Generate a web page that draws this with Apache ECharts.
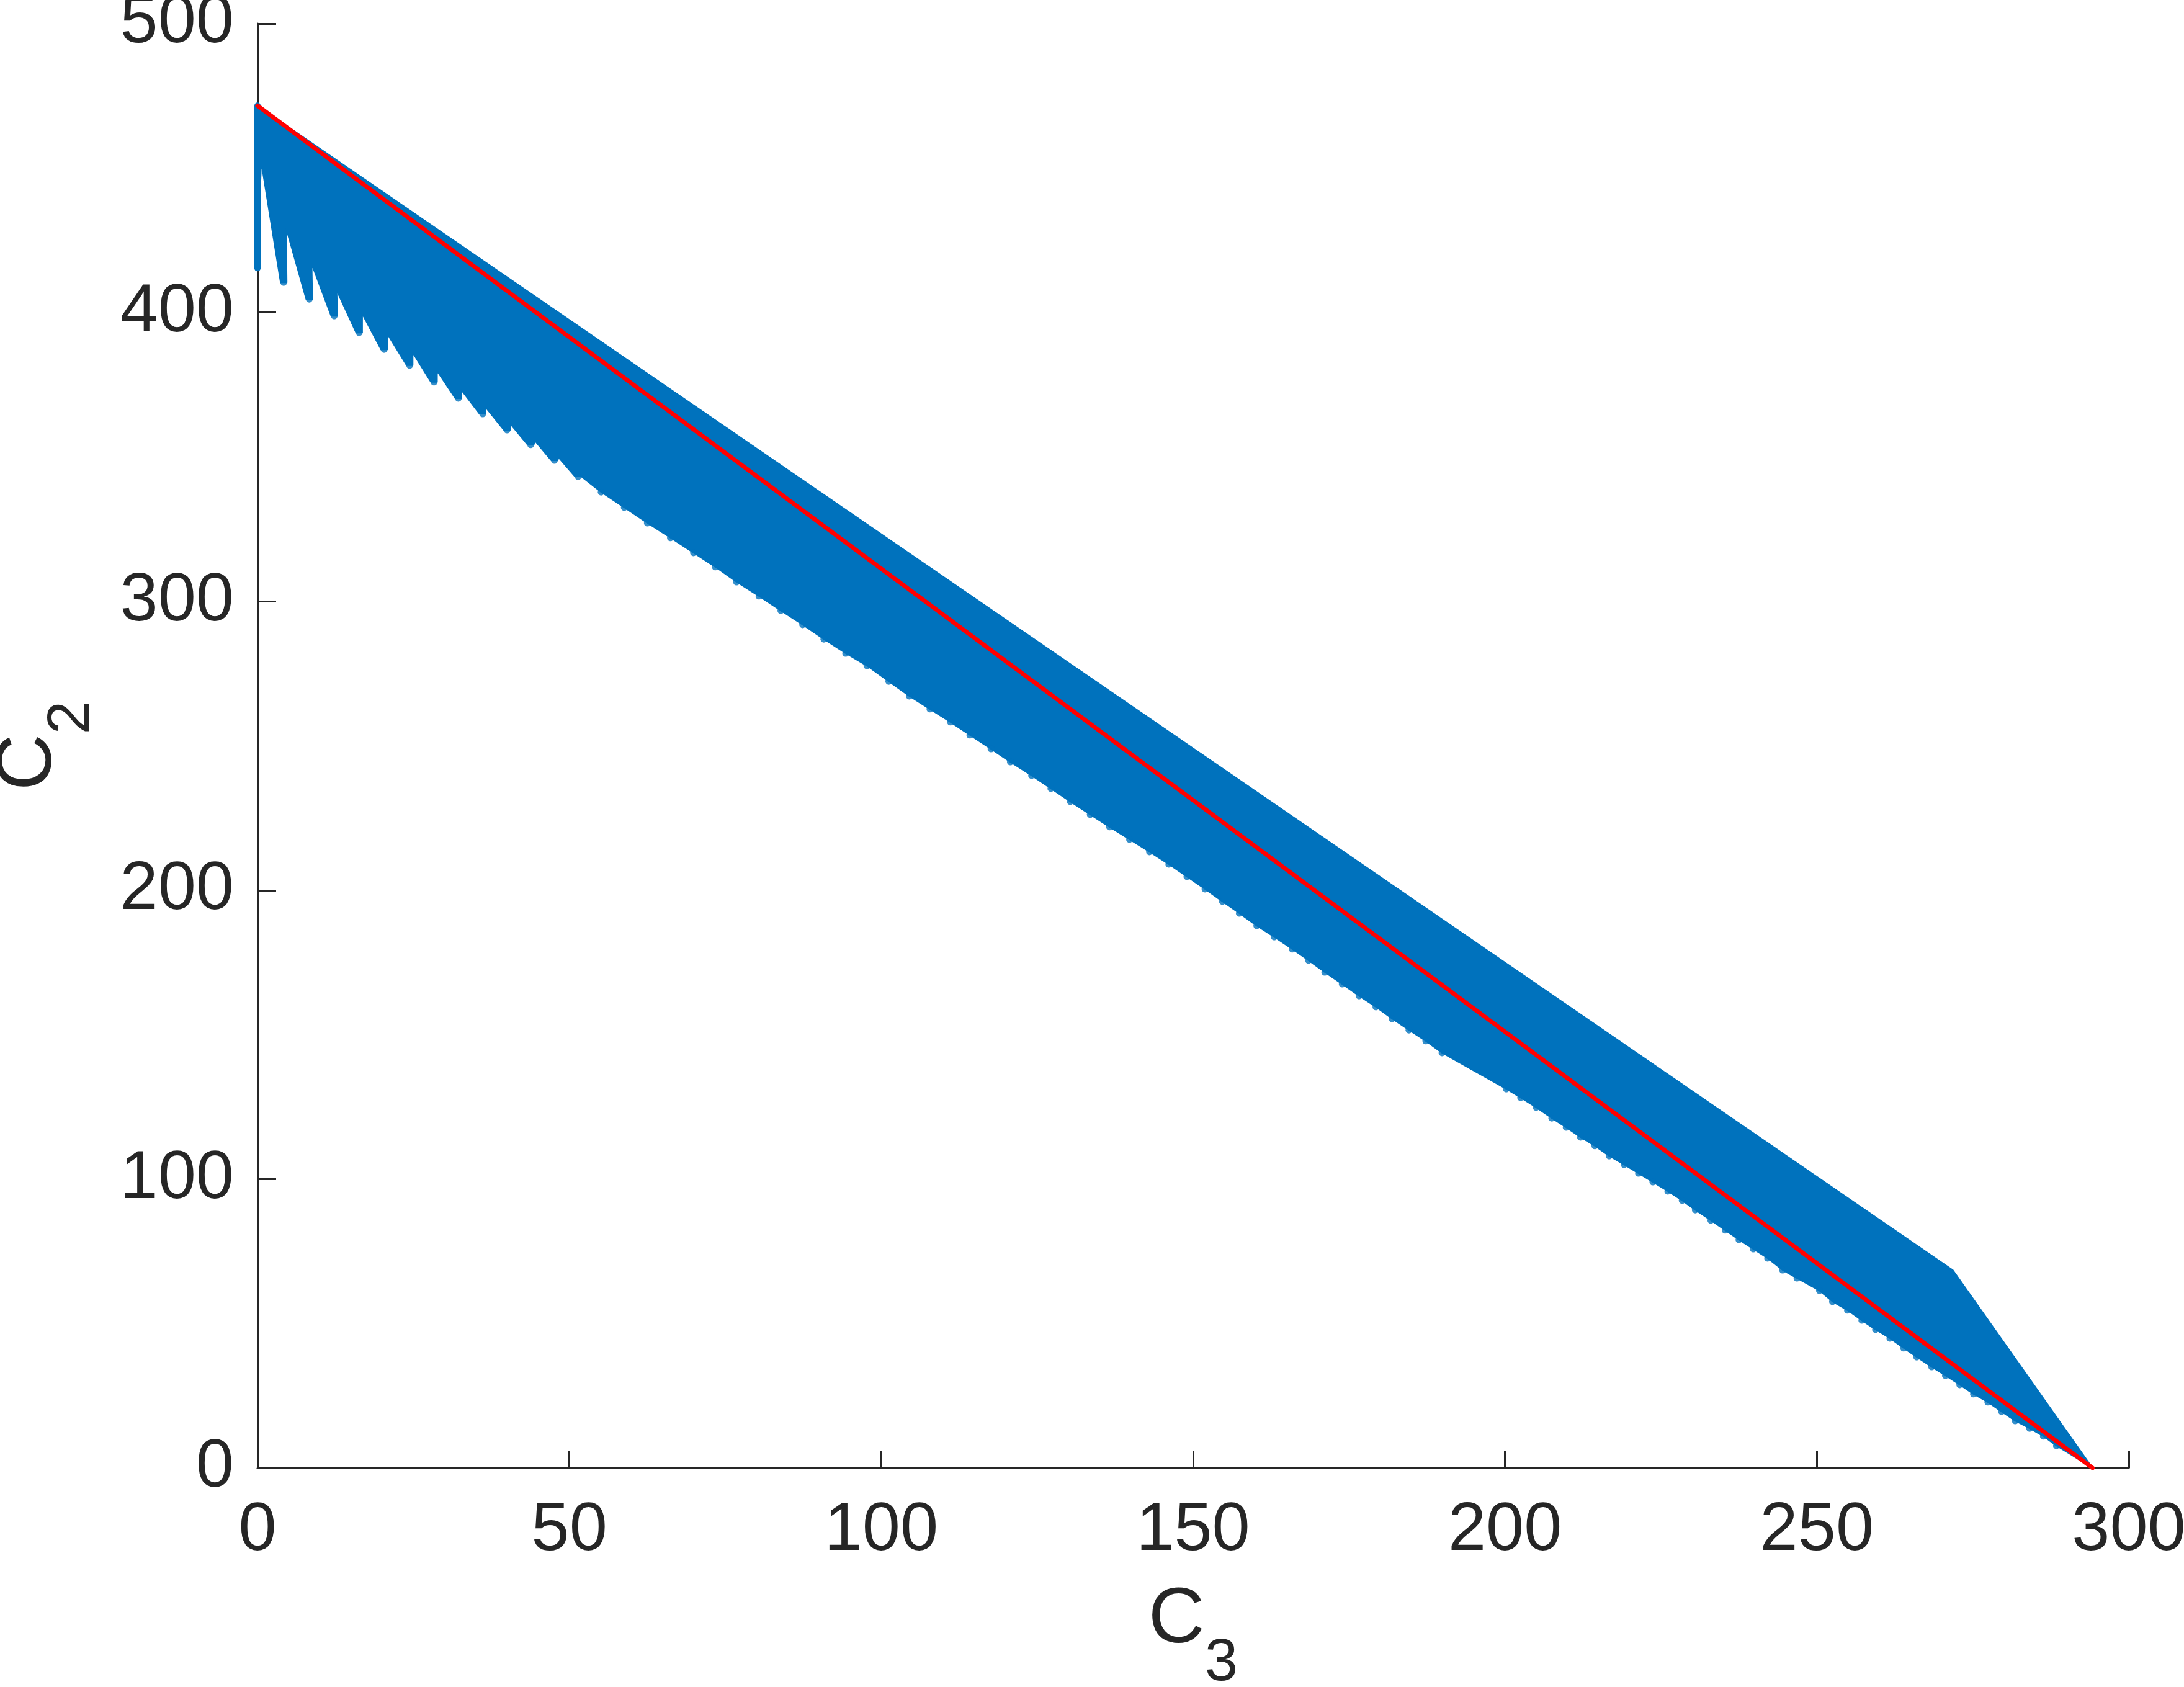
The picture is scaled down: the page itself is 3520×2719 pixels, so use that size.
<!DOCTYPE html>
<html>
<head>
<meta charset="utf-8">
<script src="https://cdn.jsdelivr.net/npm/echarts@6/dist/echarts.min.js"></script>
<style>
html,body{margin:0;padding:0;background:#fff;}
#chart{width:3520px;height:2719px;}
</style>
</head>
<body>
<div id="chart"></div>
<script>
// ---- Data (C3 on x, C2 on y) ----
const xTicks = [0, 50, 100, 150, 200, 250, 300];
const yTicks = [0, 100, 200, 300, 400, 500];

// upper envelope of the blue region: start, corner, end
const upperEdge = [[0, 471.6], [271.8, 68.5], [294.2, 0]];
// bottom end of the vertical stroke at C3 = 0
const leftStemBottom = [0, 415.3];
// tops of the white notches preceding the first tooth tips
const notchApex = [
  [0.6, 452.0], [4.6, 429.1], [8.7, 416.7], [12.7, 407.6], [16.8, 399.5],
  [20.8, 392.6], [24.9, 386.0], [28.8, 379.7], [32.7, 373.1], [36.6, 367.1],
  [40.5, 361.5], [44.5, 355.5], [48.3, 349.7]
];
// lower tooth tips (left to right)
const lowerTips = [
  [4.2, 410.4], [8.3, 404.6], [12.3, 398.8], [16.3, 393.0], [20.3, 387.2],
  [24.4, 381.7], [28.3, 375.9], [32.2, 370.3], [36.1, 364.9], [40.0, 359.3],
  [43.8, 354.2], [47.6, 348.8],
  [51.4, 343.2], [55.1, 337.8], [58.8, 332.5], [62.5, 327.1], [66.2, 322.0],
  [69.9, 316.8], [73.4, 311.9], [76.8, 306.7], [80.4, 301.8], [83.9, 296.8],
  [87.4, 291.9], [90.8, 286.9], [94.3, 282.0], [97.7, 277.7],
  [101.2, 272.3], [104.5, 267.2], [107.8, 262.7], [111.1, 258.2], [114.2, 253.7],
  [117.6, 248.9], [120.7, 244.4], [124.1, 239.7], [127.2, 235.2], [130.3, 230.7],
  [133.5, 226.2], [136.6, 221.9], [139.8, 217.6], [143.0, 213.3], [146.1, 209.0],
  [149.0, 204.7], [151.9, 200.4], [154.7, 196.1], [157.4, 192.0], [160.2, 187.7],
  [163.0, 183.8], [165.9, 179.6], [168.5, 175.7], [171.1, 171.6], [173.9, 167.5],
  [176.6, 163.4], [179.3, 159.6], [181.9, 155.5], [184.6, 151.6], [187.3, 147.8],
  [189.9, 143.7],
  [200.2, 131.2], [202.5, 128.2], [205.0, 124.8], [207.5, 121.1],
  [209.8, 117.9], [212.1, 114.5], [214.4, 111.5], [216.7, 108.0], [219.1, 105.0],
  [221.4, 102.0], [223.7, 99.0], [226.1, 95.8], [228.4, 92.6], [230.5, 89.3],
  [233.0, 85.7], [235.3, 82.3], [237.5, 79.0], [239.8, 75.8], [242.1, 72.6],
  [244.5, 68.5], [246.8, 65.7],
  [250.4, 61.4], [252.5, 57.6], [254.9, 54.6], [257.2, 51.1], [259.4, 47.9],
  [261.7, 44.9], [263.9, 41.5], [266.0, 38.4], [268.4, 35.0], [270.6, 32.0],
  [272.9, 28.8], [275.1, 25.6], [277.4, 22.8], [279.6, 19.5], [281.8, 16.3],
  [284.1, 13.7], [286.3, 11.0], [288.4, 7.7]
];
// red line
const redLine = [[0, 471.6], [294.2, 0]];

const BLUE = '#0072BD';
const RED = '#FF0000';
const AX = '#262626';
const FONT = '"Liberation Sans", Arial, Helvetica, sans-serif';
const STROKE = 10; // MATLAB line width in px

const chart = echarts.init(document.getElementById('chart'), null, {renderer: 'canvas'});

const nameRich = {
  c: {fontSize: 126, lineHeight: 126, fontFamily: FONT, color: AX, verticalAlign: 'top'},
  s: {fontSize: 96, lineHeight: 181, fontFamily: FONT, color: AX, verticalAlign: 'bottom'}
};

chart.setOption({
  animation: false,
  backgroundColor: '#ffffff',
  grid: {left: 415, right: 89, top: 38, bottom: 353, containLabel: false, outerBoundsMode: 'none'},
  xAxis: {
    type: 'value', min: xTicks[0], max: xTicks[xTicks.length - 1], interval: 50,
    name: '{c|C}{s|3}', nameLocation: 'middle', nameGap: 183, nameMoveOverlap: false,
    nameTextStyle: {rich: nameRich},
    axisLine: {show: true, onZero: false, lineStyle: {color: AX, width: 3}},
    axisTick: {show: true, inside: true, length: 28, lineStyle: {color: AX, width: 3}},
    axisLabel: {show: true, margin: 47, fontSize: 110, lineHeight: 110, fontFamily: FONT, color: AX},
    splitLine: {show: false}
  },
  yAxis: {
    type: 'value', min: yTicks[0], max: yTicks[yTicks.length - 1], interval: 100,
    name: '{c|C}{s|2}', nameLocation: 'middle', nameGap: 250, nameRotate: 90, nameMoveOverlap: false,
    nameTextStyle: {rich: nameRich},
    axisLine: {show: true, onZero: false, lineStyle: {color: AX, width: 3}},
    axisTick: {show: true, inside: true, length: 30, lineStyle: {color: AX, width: 3}},
    axisLabel: {show: true, margin: 38, fontSize: 110, lineHeight: 110, fontFamily: FONT, color: AX},
    splitLine: {show: false}
  },
  series: [
    {
      type: 'custom',
      name: 'region',
      data: [upperEdge[0], leftStemBottom].concat(notchApex, lowerTips, [upperEdge[1], upperEdge[2]]),
      encode: {x: 0, y: 1},
      clip: false,
      z: 2,
      renderItem: function (params, api) {
        if (params.dataIndex !== 0) return null;
        const half = STROKE / 2;
        const pts = [];
        pts.push(api.coord(upperEdge[0]));
        pts.push(api.coord(leftStemBottom));
        lowerTips.forEach(function (t, i) {
          if (i < notchApex.length) {
            pts.push(api.coord(notchApex[i]));
            // the tooth is a thick stroke: widen its tip to the stroke width
            const c = api.coord(t);
            pts.push([c[0] - half, c[1]]);
            pts.push([c[0] + half, c[1]]);
          } else {
            pts.push(api.coord(t));
          }
        });
        pts.push(api.coord(upperEdge[2]));
        pts.push(api.coord(upperEdge[1]));
        return {type: 'polygon', shape: {points: pts}, style: {fill: BLUE, stroke: BLUE, lineWidth: 2, lineJoin: 'round'}};
      }
    },
    {
      type: 'scatter',
      name: 'tips',
      data: lowerTips,
      symbol: 'circle',
      symbolSize: 11,
      itemStyle: {color: BLUE},
      clip: false,
      z: 3,
      silent: true
    },
    {
      type: 'line',
      name: 'stem',
      data: [upperEdge[0], leftStemBottom],
      showSymbol: false,
      clip: false,
      lineStyle: {color: BLUE, width: STROKE, cap: 'round'},
      z: 4,
      silent: true
    },
    {
      type: 'line',
      name: 'red',
      data: redLine,
      showSymbol: false,
      clip: false,
      lineStyle: {color: RED, width: 7, cap: 'round'},
      z: 5,
      silent: true
    }
  ]
});
</script>
</body>
</html>
